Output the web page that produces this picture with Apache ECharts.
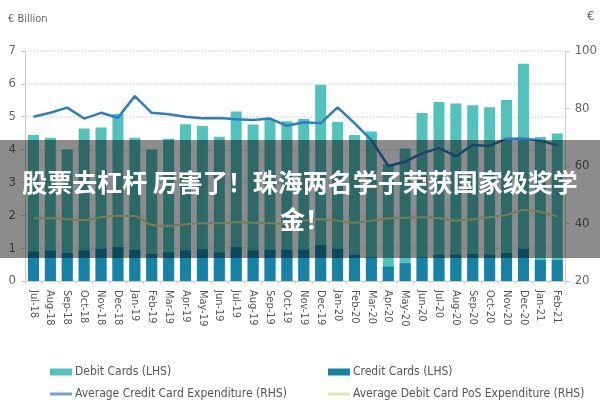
<!DOCTYPE html>
<html>
<head>
<meta charset="utf-8">
<script src="https://cdn.jsdelivr.net/npm/echarts@6/dist/echarts.min.js"></script>
<style>
  html, body { margin: 0; padding: 0; background: #fff; }
  #chart { width: 600px; height: 400px; }
</style>
</head>
<body>
<div id="chart"></div>
<script>
// 月份
var months = ['Jul-18', 'Aug-18', 'Sep-18', 'Oct-18', 'Nov-18', 'Dec-18',
  'Jan-19', 'Feb-19', 'Mar-19', 'Apr-19', 'May-19', 'Jun-19', 'Jul-19', 'Aug-19', 'Sep-19', 'Oct-19', 'Nov-19', 'Dec-19',
  'Jan-20', 'Feb-20', 'Mar-20', 'Apr-20', 'May-20', 'Jun-20', 'Jul-20', 'Aug-20', 'Sep-20', 'Oct-20', 'Nov-20', 'Dec-20',
  'Jan-21', 'Feb-21']

// 左轴 (€ billion)
var debitCards = [4.44, 4.36, 4.00, 4.64, 4.67, 5.08, 4.36, 4.00, 4.33, 4.77, 4.72, 4.39, 5.16, 4.76, 4.90, 4.86,
  4.93, 5.97, 4.84, 4.44, 4.55, 3.55, 4.03, 5.11, 5.45, 5.40, 5.35, 5.29, 5.51, 6.61, 4.38, 4.49]
var creditCards = [0.90, 0.93, 0.85, 0.93, 0.98, 1.03, 0.95, 0.82, 0.87, 0.93, 0.97, 0.87, 1.03, 0.93, 0.95, 0.95,
  0.95, 1.10, 0.98, 0.80, 0.72, 0.44, 0.54, 0.72, 0.80, 0.80, 0.82, 0.80, 0.85, 0.98, 0.64, 0.64]

// 右轴 (€)
var avgCreditExp = [77.1, 78.5, 80.3, 76.5, 78.5, 76.8, 84.3, 78.5, 78.0, 77.1, 76.6, 76.7, 76.3, 76.0, 76.5, 74.0,
  75.2, 74.9, 80.4, 74.9, 69.0, 60.0, 61.5, 64.4, 66.2, 63.4, 67.3, 67.0, 69.5, 69.6, 68.9, 67.2]
var avgDebitPos = [41.8, 41.8, 41.5, 41.2, 42.2, 42.7, 42.6, 39.5, 39.2, 39.7, 40.1, 40.1, 40.4, 40.3, 40.1, 39.8,
  41.0, 41.5, 41.0, 40.3, 41.0, 41.8, 42.0, 42.2, 41.8, 41.0, 41.5, 42.2, 43.0, 44.7, 44.1, 42.4]

var names = ['Debit Cards (LHS)', 'Credit Cards (LHS)',
  'Average Credit Card Expenditure (RHS)', 'Average Debit Card PoS Expenditure (RHS)']

// 横幅文字
var bannerLine1 = '股票去杠杆 厉害了！珠海两名学子荣获国家级奖学'
var bannerLine2 = '金！'

var narrow = "'Liberation Sans Narrow', 'DejaVu Sans Condensed', sans-serif"

function legendAt(name, left, top, h) {
  return {
    data: [name],
    left: left,
    top: top,
    icon: 'rect',
    itemWidth: 22,
    itemHeight: h,
    itemGap: 0,
    selectedMode: false,
    textStyle: { color: '#555', fontSize: 12, fontFamily: narrow, padding: [0, 0, 0, -2] }
  }
}

var myChart = echarts.init(document.getElementById('chart'))

var option = {
  animation: false,
  grid: { left: 25, right: 32, top: 51, bottom: 119 },
  legend: [
    legendAt(names[0], 45, 361, 7),
    legendAt(names[1], 323, 361, 7),
    legendAt(names[2], 45, 383, 3),
    legendAt(names[3], 323, 383, 3)
  ],
  xAxis: {
    type: 'category',
    data: months,
    axisLine: { lineStyle: { color: '#ccc' } },
    axisTick: { show: true, length: 3, lineStyle: { color: '#e8c8c8' } },
    axisLabel: {
      rotate: -90,
      interval: 0,
      margin: 9,
      color: '#555',
      fontSize: 11,
      fontFamily: narrow
    }
  },
  yAxis: [
    {
      type: 'value',
      min: 0,
      max: 7,
      interval: 1,
      axisLine: { show: true, lineStyle: { color: '#ccc' } },
      axisTick: { show: true, length: 4, lineStyle: { color: '#ccc' } },
      axisLabel: { color: '#666', fontSize: 13, fontFamily: narrow, margin: 9 },
      splitLine: { lineStyle: { color: '#ddd', type: 'dotted', width: 1.5 } }
    },
    {
      type: 'value',
      min: 20,
      max: 100,
      interval: 20,
      axisLine: { show: true, lineStyle: { color: '#ccc' } },
      axisTick: { show: true, length: 4, lineStyle: { color: '#ccc' } },
      axisLabel: { color: '#666', fontSize: 13, fontFamily: narrow, margin: 9 },
      splitLine: { show: false }
    }
  ],
  series: [
    {
      name: names[0],
      type: 'bar',
      barWidth: 11,
      barGap: '-100%',
      itemStyle: { color: '#52c2bc' },
      data: debitCards
    },
    {
      name: names[1],
      type: 'bar',
      barWidth: 11,
      barGap: '-100%',
      itemStyle: { color: '#1683a6' },
      data: creditCards
    },
    {
      name: names[2],
      type: 'line',
      yAxisIndex: 1,
      symbol: 'none',
      lineStyle: { color: '#2f7dbf', width: 2.5 },
      itemStyle: { color: '#6fa3d6' },
      data: avgCreditExp
    },
    {
      name: names[3],
      type: 'line',
      yAxisIndex: 1,
      symbol: 'none',
      smooth: 0.3,
      lineStyle: { color: '#dfe29a', width: 2 },
      itemStyle: { color: '#dfe6b0' },
      data: avgDebitPos
    }
  ],
  graphic: [
    {
      type: 'text', left: 8, top: 14, z: 100,
      style: { text: '€ Billion', fill: '#666', fontSize: 11, fontFamily: narrow }
    },
    {
      type: 'text', left: 587, top: 10, z: 100,
      style: { text: '€', fill: '#666', fontSize: 13, fontFamily: narrow }
    },
    // 半透明横幅
    {
      type: 'rect', z: 100,
      shape: { x: 0, y: 140, width: 600, height: 118 },
      style: { fill: 'rgba(0,0,0,0.45)' }
    },
    {
      type: 'text', z: 101, x: 300, y: 182,
      style: {
        text: bannerLine1, fill: '#fff', fontSize: 25, fontWeight: 'bold',
        fontFamily: "'Noto Sans CJK SC', sans-serif", align: 'center', verticalAlign: 'middle'
      }
    },
    {
      type: 'text', z: 101, x: 305, y: 219,
      style: {
        text: bannerLine2, fill: '#fff', fontSize: 25, fontWeight: 'bold',
        fontFamily: "'Noto Sans CJK SC', sans-serif", align: 'center', verticalAlign: 'middle'
      }
    }
  ]
}

myChart.setOption(option)
</script>
</body>
</html>
